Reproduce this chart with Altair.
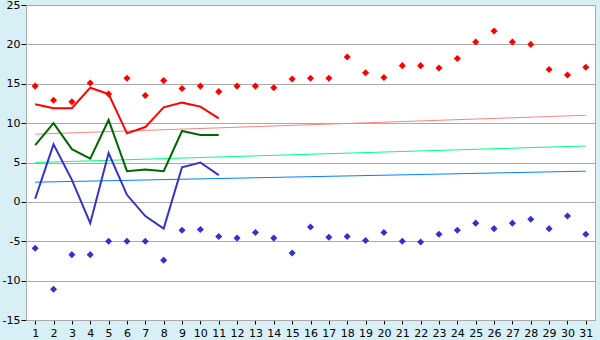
import altair as alt
import pandas as pd

days = list(range(1, 32))
max_pts = [14.7, 12.9, 12.7, 15.1, 13.7, 15.7, 13.5, 15.4, 14.4, 14.7, 14.0,
           14.7, 14.7, 14.5, 15.6, 15.7, 15.7, 18.4, 16.4, 15.8, 17.3, 17.3,
           17.0, 18.2, 20.3, 21.7, 20.3, 20.0, 16.8, 16.1, 17.1]
min_pts = [-5.9, -11.1, -6.7, -6.7, -5.0, -5.0, -5.0, -7.4, -3.6, -3.5, -4.4,
           -4.6, -3.9, -4.6, -6.5, -3.2, -4.5, -4.4, -4.9, -3.9, -5.0, -5.1,
           -4.1, -3.6, -2.7, -3.4, -2.7, -2.2, -3.4, -1.8, -4.1]
line_days = list(range(1, 12))
red_line = [12.4, 11.9, 11.9, 14.5, 13.7, 8.7, 9.5, 12.0, 12.6, 12.1, 10.6]
green_line = [7.2, 10.0, 6.7, 5.5, 10.4, 3.9, 4.1, 3.9, 9.0, 8.5, 8.5]
blue_line = [0.4, 7.3, 2.8, -2.7, 6.2, 0.9, -1.8, -3.4, 4.4, 5.0, 3.4]
norm_days = [1, 31]
norm_max = [8.6, 11.0]
norm_mean = [5.0, 7.1]
norm_min = [2.5, 3.9]

x_scale = alt.Scale(domain=[0.5, 31.5], nice=False, zero=False)
y_scale = alt.Scale(domain=[-15, 25], nice=False, zero=False)

x_axis = alt.Axis(values=days, title=None, grid=False, tickSize=4, labelPadding=3,
                  domainColor="#aaaaaa", tickColor="#000000", labelFontSize=11,
                  labelColor="#000000", labelFont="DejaVu Sans", labelAngle=0)
y_axis = alt.Axis(values=list(range(-15, 26, 5)), title=None, grid=True,
                  gridColor="#aaaaaa", tickSize=5, labelPadding=1,
                  labelExpr="toString(datum.value)",
                  domainColor="#aaaaaa", tickColor="#000000", labelFontSize=11,
                  labelColor="#000000", labelFont="DejaVu Sans")

def xenc():
    return alt.X("day:Q", scale=x_scale, axis=x_axis)

def yenc():
    return alt.Y("v:Q", scale=y_scale, axis=y_axis)

def line_layer(xs, ys, color, width):
    df = pd.DataFrame({"day": xs, "v": ys})
    return alt.Chart(df).mark_line(color=color, strokeWidth=width).encode(
        x=xenc(), y=yenc())

def pts_layer(xs, ys, color):
    df = pd.DataFrame({"day": xs, "v": ys})
    return alt.Chart(df).mark_point(shape="diamond", filled=True, size=50,
                                    color=color, opacity=1).encode(
        x=xenc(), y=yenc())

chart = alt.layer(
    line_layer(norm_days, norm_max, "#ff8080", 1),
    line_layer(norm_days, norm_mean, "#00ff80", 1),
    line_layer(norm_days, norm_min, "#0080ff", 1),
    line_layer(line_days, red_line, "#ff0000", 2),
    line_layer(line_days, green_line, "#006600", 2),
    line_layer(line_days, blue_line, "#3333cc", 2),
    pts_layer(days, max_pts, "#ff0000"),
    pts_layer(days, min_pts, "#3333cc"),
).properties(
    width=569, height=315,
    autosize=alt.AutoSizeParams(type="none"),
    padding={"left": 26, "top": 5, "right": 5, "bottom": 20},
    background="#d9eff6",
).configure_view(stroke="#aaaaaa", fill="#ffffff")

chart.save("out.html", embed_options={"renderer": "svg", "actions": False})
